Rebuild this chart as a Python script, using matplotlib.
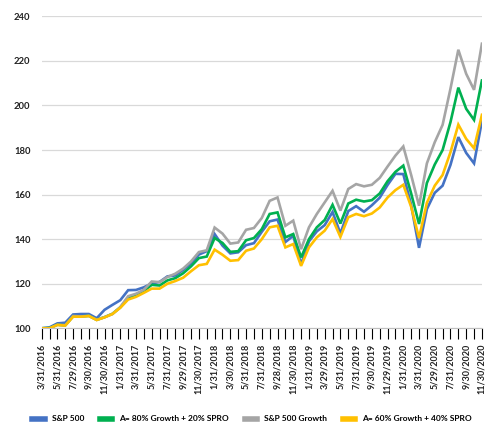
import matplotlib.pyplot as plt
import pandas as pd

# month-end trading dates, 3/31/2016 .. 11/30/2020
dates = pd.date_range('2016-03-31', '2020-11-30', freq='BME')
labels = [f"{d.month}/{d.day}/{d.year}" for d in dates]

sp500 = [100.0, 100.4, 102.2, 102.5, 106.2, 106.4, 106.4, 104.5, 108.3, 110.5,
         112.6, 117.1, 117.2, 118.4, 120.1, 120.8, 123.3, 123.7, 126.2, 129.2,
         133.1, 134.6, 142.3, 137.1, 133.6, 134.1, 137.3, 138.2, 143.3, 148.0,
         148.8, 138.7, 141.5, 128.7, 139.0, 143.5, 146.3, 152.2, 142.5, 152.6,
         154.8, 152.3, 155.2, 158.6, 164.3, 169.3, 169.2, 155.3, 136.1, 153.5,
         160.8, 164.0, 173.3, 185.8, 178.7, 174.0, 193.0]
mix80 = [100.0, 100.1, 101.6, 101.3, 105.4, 105.3, 105.6, 103.8, 105.0, 106.5,
         109.4, 113.6, 115.1, 116.7, 119.5, 119.2, 121.5, 122.5, 124.7, 127.8,
         131.5, 132.2, 140.5, 138.3, 134.3, 134.6, 139.5, 140.5, 144.5, 151.3,
         152.0, 140.8, 142.3, 131.8, 140.0, 145.3, 148.6, 155.4, 147.0, 156.0,
         157.7, 156.9, 157.5, 160.5, 166.0, 170.2, 173.0, 160.5, 146.8, 165.2,
         173.5, 180.0, 192.5, 208.0, 198.5, 193.5, 211.2]
growth = [100.0, 100.0, 101.6, 101.4, 105.5, 105.3, 105.6, 103.8, 105.0, 106.4,
          109.5, 114.4, 115.5, 117.3, 121.0, 120.7, 123.0, 124.5, 126.8, 130.0,
          134.2, 135.0, 145.2, 142.5, 138.0, 138.5, 144.2, 145.0, 149.5, 157.2,
          158.7, 146.0, 148.3, 135.5, 145.3, 151.3, 156.5, 161.7, 152.8, 162.5,
          164.7, 163.7, 164.4, 167.5, 172.6, 177.5, 181.6, 168.8, 155.0, 174.0,
          183.5, 191.3, 207.5, 225.0, 214.2, 207.0, 227.7]
mix60 = [100.0, 100.0, 101.5, 101.2, 105.2, 105.2, 105.5, 103.7, 104.9, 106.4,
         109.2, 112.9, 114.1, 115.9, 117.8, 117.8, 120.0, 121.2, 122.7, 125.6,
         128.3, 128.9, 135.3, 133.0, 130.3, 130.6, 134.8, 135.8, 140.0, 145.3,
         146.0, 136.3, 137.8, 128.0, 136.3, 140.8, 143.8, 149.0, 141.0, 149.8,
         151.3, 150.3, 151.5, 154.2, 158.7, 162.0, 164.4, 154.5, 140.5, 156.3,
         164.0, 168.8, 179.0, 191.4, 185.0, 180.8, 195.8]

names = ['S&P 500', 'A= 80% Growth + 20% SPRO', 'S&P 500 Growth', 'A= 60% Growth + 40% SPRO']
colors = ['#4472C4', '#00B050', '#A5A5A5', '#FFC000']

plt.rcParams['font.family'] = ['Lato', 'DejaVu Sans']

fig = plt.figure(figsize=(4.96, 4.41), dpi=100)
ax = fig.add_axes([0.084, 0.2556, 0.8876, 0.7074])

x = list(range(len(dates)))
for vals, name, c in zip([sp500, mix80, growth, mix60], names, colors):
    ax.plot(x, vals, color=c, lw=1.9, label=name, solid_joinstyle='miter')

ax.set_xlim(0, len(dates) - 1)
ax.set_ylim(100, 240)
ax.set_yticks(range(100, 241, 20))
ax.grid(axis='y', color='#d9d9d9', lw=0.9)
ax.set_axisbelow(True)
for s in ['top', 'right', 'left']:
    ax.spines[s].set_visible(False)
ax.spines['bottom'].set_color('#bfbfbf')

ax.set_xticks(x)
ax.set_xticklabels([l if i % 2 == 0 else '' for i, l in enumerate(labels)],
                   rotation=90, fontsize=6.5, fontweight='bold', color='#222222')
ax.tick_params(axis='x', length=8, width=0.8, color='black', pad=3)
ax.tick_params(axis='y', length=0, pad=8, labelsize=6.8, labelcolor='#222222')
for t in ax.get_yticklabels():
    t.set_fontweight('bold')

fig.legend(loc='center', bbox_to_anchor=(0.508, 0.05), ncol=4, frameon=False,
           handlelength=1.5, handletextpad=0.8, columnspacing=1.9,
           prop={'size': 6.0, 'weight': 'bold'})
for line in fig.legends[0].get_lines():
    line.set_linewidth(4)

fig.savefig('out.png', dpi=100)
